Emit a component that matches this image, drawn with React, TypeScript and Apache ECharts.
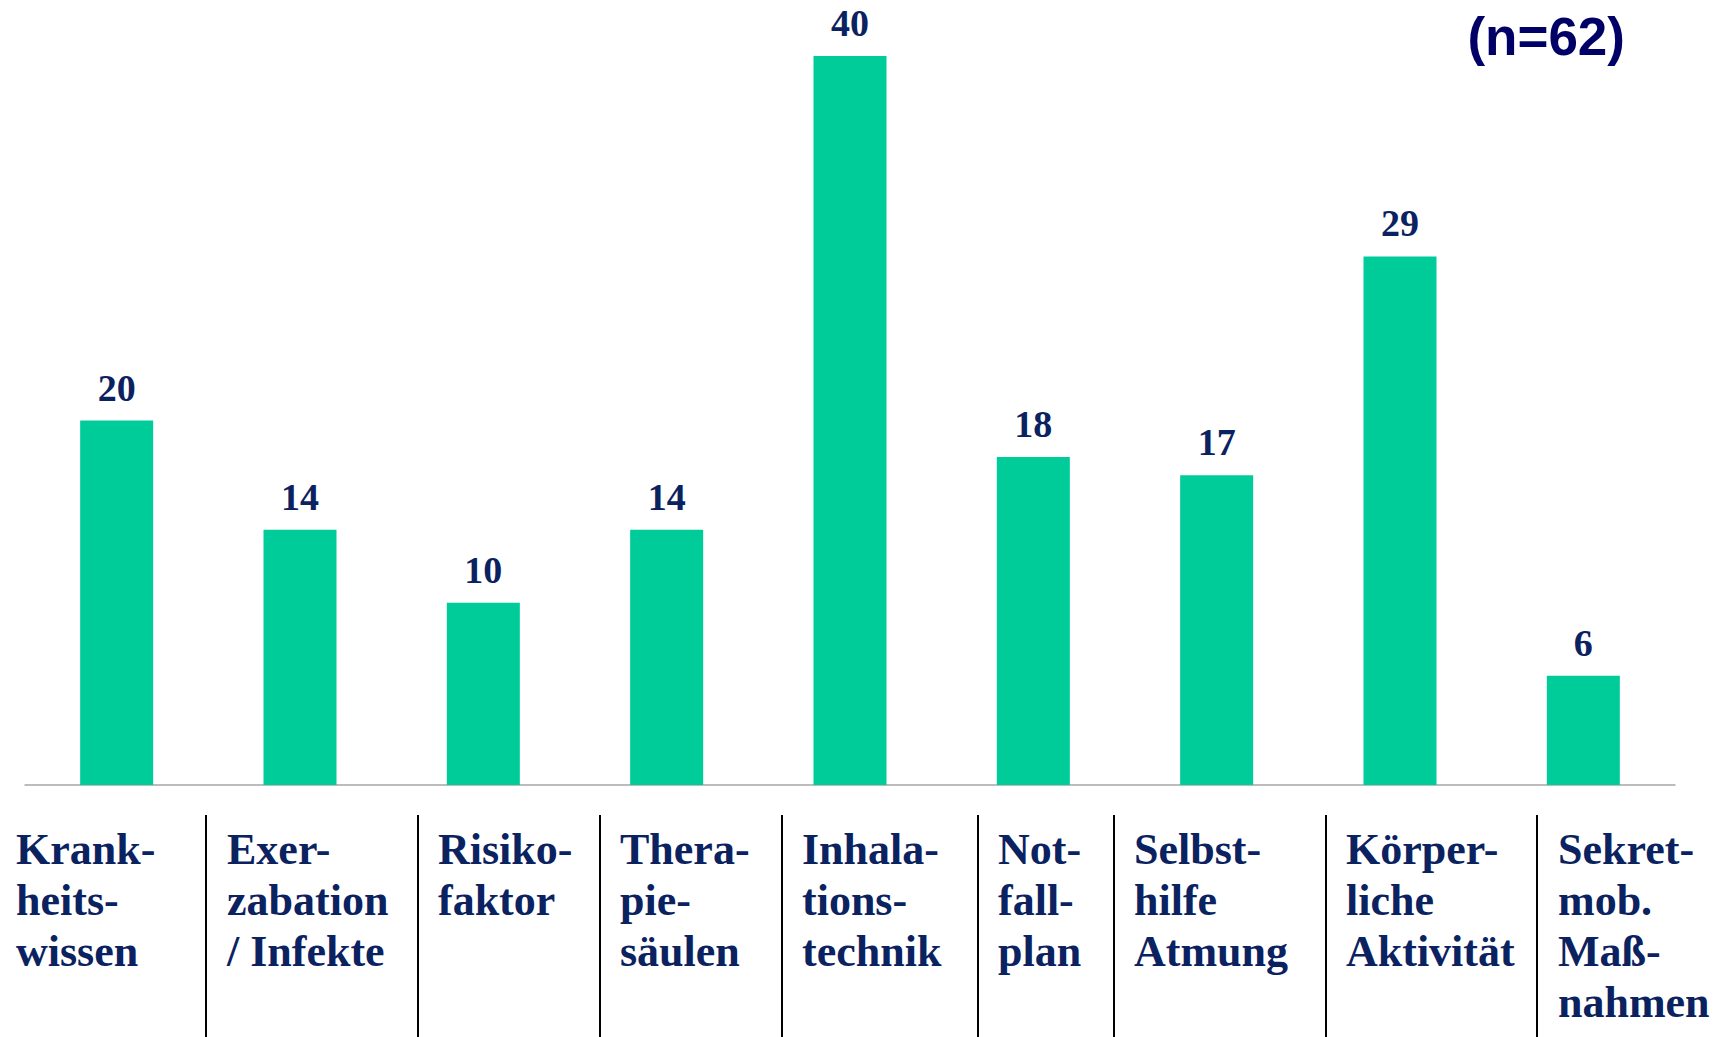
import React, { useEffect, useRef } from "react";
import * as echarts from "echarts";

// ---- data ----
const categories: string[] = [
  "Krank-\nheits-\nwissen",
  "Exer-\nzabation\n/ Infekte",
  "Risiko-\nfaktor",
  "Thera-\npie-\nsäulen",
  "Inhala-\ntions-\ntechnik",
  "Not-\nfall-\nplan",
  "Selbst-\nhilfe\nAtmung",
  "Körper-\nliche\nAktivität",
  "Sekret-\nmob.\nMaß-\nnahmen",
];
const values: number[] = [20, 14, 10, 14, 40, 18, 17, 29, 6];
const sampleNote = "(n=62)";

// ---- layout of the label table below the chart (not data) ----
const separatorX: number[] = [206, 418, 600, 782, 978, 1114, 1326, 1537];
const labelX: number[] = [16, 227, 438, 620, 802, 998, 1134, 1346, 1558];

const NAVY = "#0b2261";
const GREEN = "#00cc99";

export default function App() {
  const ref = useRef<HTMLDivElement>(null);

  useEffect(() => {
    if (!ref.current) return;
    const chart = echarts.init(ref.current, undefined, { renderer: "svg" });

    const graphic: any[] = [];
    separatorX.forEach((x) => {
      graphic.push({
        type: "line",
        shape: { x1: x, y1: 815, x2: x, y2: 1037 },
        style: { stroke: "#000000", lineWidth: 2 },
        silent: true,
      });
    });
    categories.forEach((c, i) => {
      graphic.push({
        type: "text",
        x: labelX[i],
        y: 824,
        style: {
          text: c,
          fill: NAVY,
          fontFamily: "Liberation Serif",
          fontWeight: "bold",
          fontSize: 44,
          lineHeight: 51,
          align: "left",
          verticalAlign: "top",
        },
        silent: true,
      });
    });
    graphic.push({
      type: "text",
      x: 1625,
      y: 36,
      style: {
        text: sampleNote,
        fill: "#000066",
        fontFamily: "Liberation Sans",
        fontWeight: "bold",
        fontSize: 53,
        align: "right",
        verticalAlign: "middle",
      },
      silent: true,
    });

    chart.setOption({
      animation: false,
      backgroundColor: "#ffffff",
      grid: { left: 25, right: 56, top: 56, bottom: 252, containLabel: false },
      xAxis: {
        type: "category",
        data: categories,
        axisLine: { show: true, lineStyle: { color: "#a6a6a6", width: 1.5 } },
        axisTick: { show: false },
        axisLabel: { show: false },
        splitLine: { show: false },
      },
      yAxis: {
        type: "value",
        min: 0,
        max: 40,
        show: false,
        splitLine: { show: false },
      },
      series: [
        {
          type: "bar",
          data: values,
          barWidth: 73,
          itemStyle: { color: GREEN },
          label: {
            show: true,
            position: "top",
            distance: 14,
            color: NAVY,
            fontFamily: "Liberation Serif",
            fontWeight: "bold",
            fontSize: 38,
          },
        },
      ],
      graphic,
    });

    return () => chart.dispose();
  }, []);

  return (
    <div
      ref={ref}
      style={{ position: "absolute", left: 0, top: 0, width: 1731, height: 1037 }}
    />
  );
}
